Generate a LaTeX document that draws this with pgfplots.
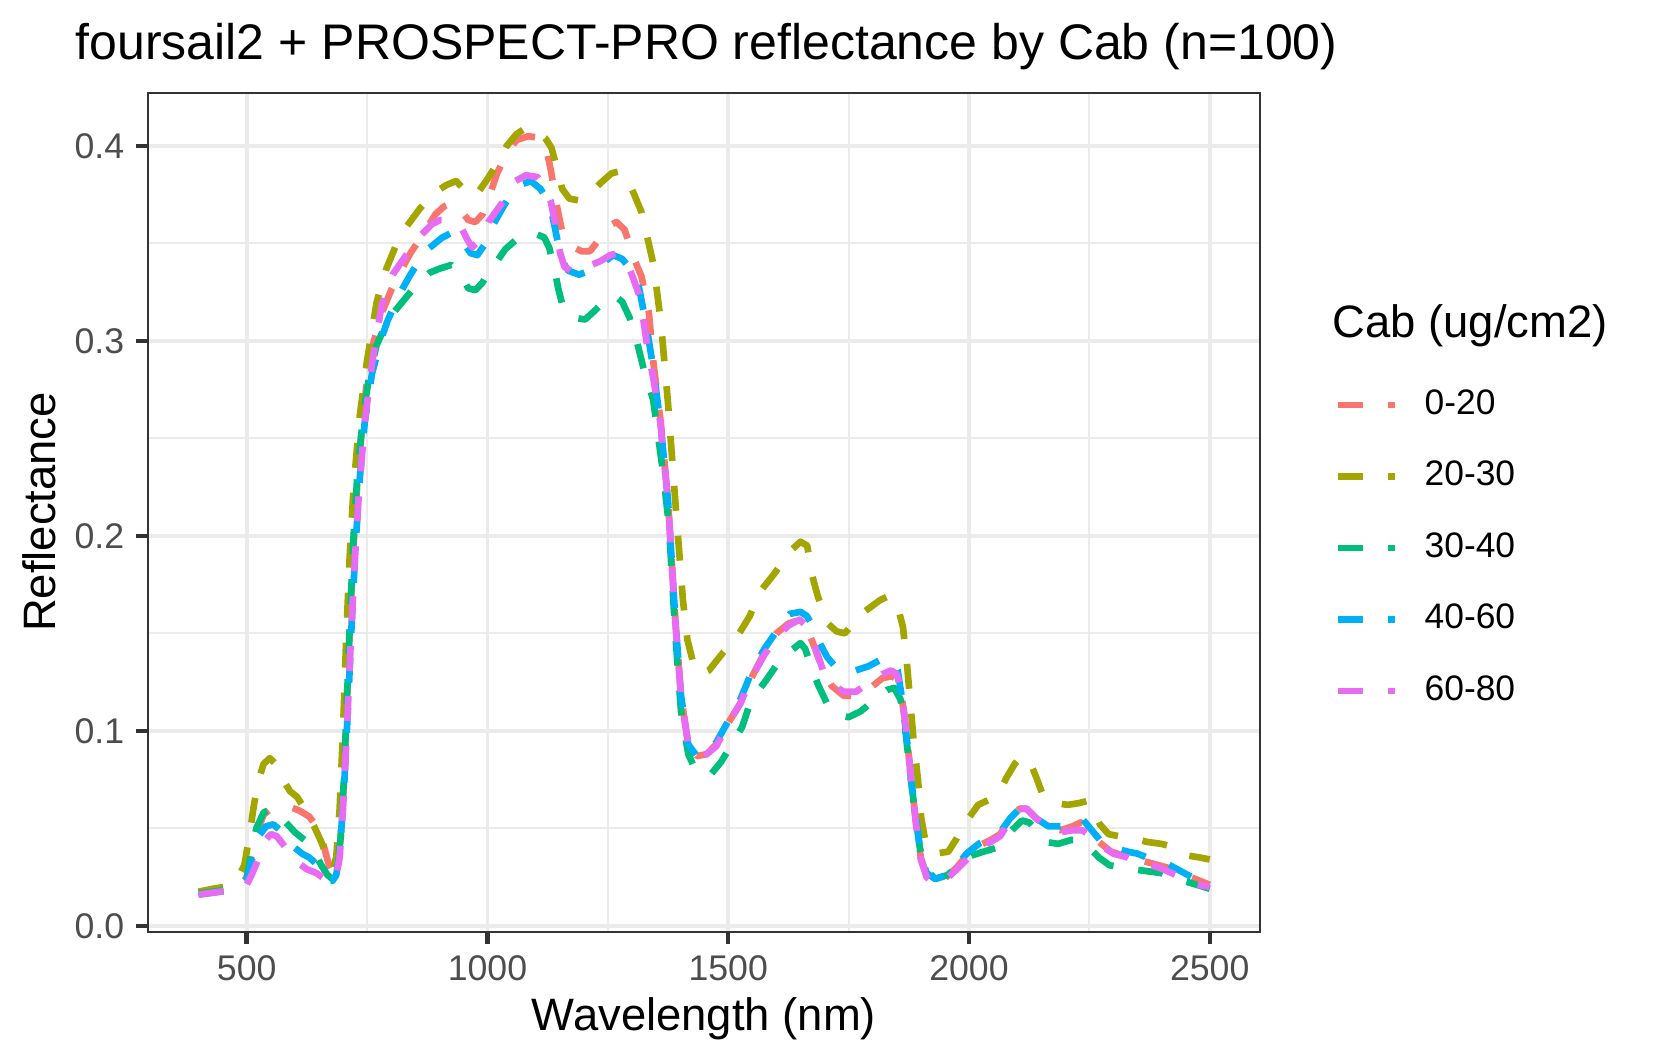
\documentclass[border=0pt]{standalone}
\usepackage{pgfplots}
\pgfplotsset{compat=1.18}
\usepackage{fontspec}
\setmainfont{Liberation Sans}
\definecolor{c1}{HTML}{F8766D}
\definecolor{c2}{HTML}{A3A500}
\definecolor{c3}{HTML}{00BF7D}
\definecolor{c4}{HTML}{00B0F6}
\definecolor{c5}{HTML}{E76BF3}
\definecolor{grid92}{HTML}{EBEBEB}
\definecolor{grey20}{HTML}{333333}
\definecolor{grey30}{HTML}{4D4D4D}
\begin{document}
\begin{tikzpicture}
\useasboundingbox (0,0) rectangle (396.72pt,-254.88pt);
\begin{axis}[
  at={(35.52pt,-223.68pt)}, anchor=south west,
  scale only axis, width=266.95pt, height=201.43pt,
  xmin=295, xmax=2605, ymin=-0.0032, ymax=0.4273,
  xtick={500,1000,1500,2000,2500}, xticklabels={500,1000,1500,2000,2500},
  ytick={0,0.1,0.2,0.3,0.4}, yticklabels={0.0,0.1,0.2,0.3,0.4},
  minor xtick={750,1250,1750,2250}, minor ytick={0.05,0.15,0.25,0.35},
  grid=both,
  major grid style={draw=grid92, line width=0.9pt},
  minor grid style={draw=grid92, line width=0.5pt},
  axis line style={draw=grey20, line width=0.5pt},
  tick align=outside, xtick pos=bottom, ytick pos=left,
  major tick length=2.9pt, minor tick length=0pt,
  tick style={draw=grey20, line width=1.07pt},
  /pgf/number format/assume math mode=true,
  ticklabel style={font=\fontsize{8.56}{10}\selectfont, text=grey30, inner sep=0pt},
  xticklabel style={anchor=north, yshift=-2.62pt},
  yticklabel style={anchor=east, xshift=-2.62pt},
  every axis plot/.append style={line width=1.6pt, dash pattern=on 6pt off 6pt, line cap=butt, line join=round},
  legend style={at={(axis description cs:1.0672,0.4576)}, anchor=west, draw=none, fill=none, inner sep=0pt, outer sep=0pt, row sep=9.73pt, column sep=6.2pt, font=\fontsize{8.5}{10}\selectfont, nodes={inner sep=0pt, outer sep=0pt}},
  legend cell align=left,
  legend image code/.code={\draw[#1] (0pt,0pt) -- (13.7pt,0pt);},
]
\addplot[c1] coordinates {(400,0.0165) (430,0.0175) (460,0.0185) (485,0.020) (500,0.025) (510,0.036) (520,0.047) (535,0.057) (550,0.060) (570,0.0605) (590,0.061) (610,0.059) (630,0.056) (645,0.051) (660,0.041) (672,0.030) (680,0.026) (688,0.030) (695,0.045) (702,0.075) (708,0.115) (715,0.16) (722,0.195) (730,0.228) (740,0.258) (750,0.28) (762,0.298) (780,0.314) (800,0.326) (820,0.336) (840,0.345) (867,0.355) (892,0.365) (910,0.369) (928,0.371) (945,0.367) (960,0.362) (975,0.361) (990,0.365) (1005,0.375) (1020,0.386) (1040,0.396) (1060,0.403) (1085,0.405) (1110,0.404) (1122,0.399) (1132,0.387) (1142,0.372) (1155,0.356) (1172,0.349) (1195,0.346) (1213,0.346) (1235,0.353) (1252,0.359) (1268,0.361) (1285,0.357) (1303,0.343) (1320,0.333) (1335,0.315) (1345,0.288) (1360,0.258) (1375,0.218) (1390,0.158) (1402,0.118) (1417,0.093) (1435,0.087) (1455,0.088) (1475,0.093) (1500,0.104) (1525,0.114) (1550,0.128) (1575,0.14) (1600,0.15) (1625,0.155) (1648,0.157) (1662,0.153) (1676,0.145) (1697,0.131) (1715,0.123) (1740,0.118) (1770,0.118) (1795,0.122) (1820,0.127) (1840,0.128) (1852,0.126) (1860,0.118) (1870,0.099) (1880,0.075) (1890,0.053) (1900,0.035) (1912,0.026) (1930,0.022) (1953,0.025) (1975,0.03) (1995,0.036) (2020,0.041) (2045,0.044) (2065,0.047) (2085,0.055) (2105,0.06) (2120,0.06) (2140,0.055) (2165,0.05) (2190,0.049) (2215,0.051) (2232,0.053) (2250,0.049) (2270,0.043) (2295,0.038) (2320,0.036) (2350,0.034) (2380,0.032) (2410,0.03) (2440,0.027) (2470,0.024) (2500,0.021)};
\addlegendentry{0-20}
\addplot[c2] coordinates {(400,0.0175) (430,0.019) (455,0.020) (480,0.024) (495,0.031) (505,0.045) (515,0.062) (525,0.075) (535,0.083) (548,0.086) (560,0.083) (575,0.075) (590,0.069) (605,0.066) (620,0.06) (640,0.051) (655,0.043) (668,0.034) (678,0.029) (686,0.035) (693,0.06) (700,0.1) (707,0.15) (714,0.19) (722,0.225) (735,0.262) (750,0.29) (770,0.32) (790,0.337) (810,0.349) (830,0.358) (860,0.368) (890,0.376) (915,0.38) (935,0.382) (950,0.378) (965,0.374) (980,0.376) (1000,0.383) (1020,0.391) (1040,0.4) (1060,0.406) (1078,0.409) (1100,0.407) (1120,0.404) (1133,0.399) (1145,0.388) (1155,0.378) (1170,0.373) (1190,0.372) (1210,0.375) (1235,0.381) (1258,0.386) (1275,0.387) (1290,0.383) (1305,0.375) (1320,0.366) (1333,0.352) (1345,0.339) (1360,0.31) (1375,0.268) (1390,0.218) (1406,0.167) (1415,0.147) (1427,0.135) (1442,0.129) (1460,0.131) (1489,0.140) (1518,0.148) (1545,0.159) (1565,0.171) (1597,0.181) (1628,0.192) (1650,0.197) (1664,0.195) (1674,0.18) (1686,0.169) (1707,0.155) (1725,0.151) (1742,0.150) (1760,0.155) (1777,0.16) (1815,0.167) (1832,0.169) (1850,0.166) (1863,0.153) (1871,0.135) (1878,0.115) (1885,0.095) (1894,0.075) (1901,0.055) (1912,0.040) (1930,0.037) (1957,0.038) (1975,0.045) (1990,0.052) (2019,0.062) (2045,0.065) (2060,0.067) (2078,0.076) (2095,0.083) (2110,0.087) (2125,0.085) (2140,0.076) (2155,0.066) (2180,0.063) (2205,0.062) (2230,0.063) (2245,0.064) (2258,0.059) (2272,0.052) (2290,0.047) (2310,0.046) (2340,0.045) (2370,0.043) (2400,0.042) (2430,0.04) (2455,0.036) (2480,0.035) (2500,0.034)};
\addlegendentry{20-30}
\addplot[c3] coordinates {(400,0.0165) (430,0.0175) (460,0.0185) (485,0.020) (500,0.024) (510,0.038) (520,0.05) (535,0.058) (550,0.06) (567,0.057) (585,0.052) (600,0.048) (620,0.044) (640,0.038) (655,0.031) (668,0.026) (678,0.024) (687,0.028) (695,0.045) (702,0.075) (708,0.115) (715,0.16) (722,0.2) (730,0.232) (742,0.262) (755,0.283) (770,0.298) (792,0.31) (810,0.316) (830,0.322) (857,0.33) (880,0.335) (900,0.337) (925,0.339) (944,0.334) (960,0.327) (975,0.326) (990,0.33) (1006,0.337) (1020,0.341) (1037,0.347) (1060,0.352) (1080,0.355) (1100,0.355) (1118,0.353) (1128,0.348) (1138,0.338) (1147,0.327) (1157,0.317) (1175,0.312) (1203,0.311) (1225,0.316) (1248,0.322) (1265,0.323) (1280,0.32) (1295,0.312) (1310,0.3) (1327,0.283) (1344,0.27) (1355,0.25) (1365,0.232) (1377,0.205) (1390,0.15) (1402,0.11) (1417,0.088) (1432,0.08) (1450,0.077) (1465,0.078) (1485,0.084) (1505,0.092) (1529,0.102) (1545,0.114) (1560,0.12) (1576,0.125) (1604,0.135) (1630,0.141) (1650,0.145) (1660,0.142) (1668,0.136) (1686,0.124) (1707,0.113) (1728,0.108) (1750,0.107) (1775,0.11) (1800,0.115) (1830,0.121) (1845,0.122) (1858,0.116) (1868,0.1) (1878,0.078) (1888,0.058) (1898,0.04) (1910,0.029) (1930,0.024) (1955,0.026) (1980,0.031) (2005,0.036) (2030,0.038) (2057,0.04) (2085,0.048) (2110,0.054) (2125,0.053) (2140,0.049) (2160,0.043) (2185,0.042) (2212,0.044) (2232,0.044) (2250,0.04) (2270,0.035) (2292,0.031) (2320,0.03) (2340,0.029) (2370,0.028) (2400,0.027) (2430,0.024) (2460,0.022) (2500,0.019)};
\addlegendentry{30-40}
\addplot[c4] coordinates {(400,0.016) (430,0.017) (460,0.018) (485,0.0195) (500,0.023) (510,0.033) (522,0.045) (540,0.051) (555,0.052) (570,0.049) (585,0.044) (600,0.04) (615,0.037) (630,0.035) (648,0.031) (665,0.026) (678,0.023) (686,0.026) (694,0.04) (702,0.07) (710,0.11) (718,0.155) (726,0.195) (735,0.23) (745,0.258) (760,0.283) (778,0.300) (792,0.31) (815,0.323) (840,0.334) (871,0.346) (906,0.353) (930,0.356) (948,0.351) (965,0.345) (979,0.344) (993,0.349) (1006,0.357) (1031,0.368) (1050,0.376) (1068,0.38) (1090,0.382) (1110,0.378) (1125,0.372) (1135,0.364) (1145,0.352) (1155,0.341) (1168,0.336) (1190,0.334) (1224,0.337) (1245,0.341) (1261,0.344) (1280,0.342) (1300,0.336) (1315,0.327) (1330,0.308) (1345,0.285) (1360,0.256) (1375,0.218) (1390,0.158) (1402,0.118) (1417,0.093) (1435,0.087) (1455,0.088) (1475,0.094) (1500,0.105) (1525,0.116) (1550,0.131) (1575,0.142) (1600,0.151) (1628,0.16) (1650,0.161) (1663,0.159) (1675,0.154) (1690,0.145) (1705,0.138) (1722,0.133) (1740,0.13) (1765,0.131) (1790,0.133) (1821,0.137) (1840,0.136) (1852,0.131) (1860,0.118) (1870,0.098) (1880,0.074) (1891,0.054) (1900,0.036) (1912,0.027) (1930,0.024) (1953,0.026) (1975,0.031) (1995,0.037) (2020,0.042) (2045,0.045) (2065,0.048) (2085,0.055) (2105,0.06) (2120,0.06) (2140,0.055) (2165,0.051) (2190,0.051) (2215,0.053) (2235,0.055) (2255,0.049) (2275,0.043) (2300,0.04) (2330,0.038) (2350,0.037) (2380,0.034) (2410,0.032) (2440,0.028) (2470,0.024) (2500,0.02)};
\addlegendentry{40-60}
\addplot[c5] coordinates {(400,0.016) (430,0.017) (460,0.018) (485,0.0195) (500,0.021) (510,0.026) (522,0.033) (535,0.043) (550,0.047) (562,0.046) (575,0.042) (590,0.037) (608,0.032) (625,0.029) (645,0.027) (662,0.024) (675,0.022) (685,0.024) (693,0.035) (700,0.06) (708,0.1) (716,0.145) (724,0.185) (733,0.222) (745,0.258) (760,0.288) (780,0.318) (803,0.334) (834,0.345) (861,0.354) (885,0.36) (902,0.362) (925,0.362) (944,0.359) (958,0.352) (968,0.348) (985,0.352) (1002,0.361) (1031,0.371) (1058,0.382) (1080,0.385) (1104,0.384) (1120,0.379) (1131,0.372) (1141,0.36) (1151,0.345) (1160,0.338) (1180,0.335) (1207,0.338) (1235,0.341) (1255,0.344) (1270,0.345) (1285,0.342) (1300,0.334) (1317,0.322) (1332,0.297) (1345,0.28) (1359,0.258) (1375,0.218) (1390,0.156) (1402,0.118) (1417,0.093) (1435,0.087) (1455,0.088) (1475,0.092) (1500,0.104) (1525,0.114) (1550,0.128) (1575,0.139) (1600,0.148) (1625,0.154) (1648,0.157) (1662,0.154) (1676,0.146) (1697,0.131) (1715,0.124) (1740,0.12) (1765,0.12) (1794,0.125) (1820,0.129) (1838,0.131) (1850,0.129) (1860,0.12) (1870,0.1) (1880,0.075) (1890,0.052) (1900,0.034) (1912,0.025) (1930,0.021) (1953,0.024) (1975,0.029) (1995,0.034) (2020,0.04) (2045,0.043) (2065,0.046) (2085,0.054) (2105,0.06) (2120,0.06) (2140,0.055) (2165,0.05) (2190,0.048) (2215,0.049) (2235,0.049) (2255,0.046) (2275,0.041) (2300,0.037) (2330,0.035) (2354,0.032) (2380,0.031) (2403,0.029) (2430,0.026) (2452,0.023) (2475,0.021) (2500,0.02)};
\addlegendentry{60-80}
\end{axis}
\node[anchor=base west, inner sep=0pt, font=\fontsize{12}{14}\selectfont] at (18pt,-14.16pt) {foursail2 + PROSPECT-PRO reflectance by Cab (n=100)};
\node[anchor=base, inner sep=0pt, font=\fontsize{10.9}{13}\selectfont] at (168.96pt,-247.2pt) {Wavelength (nm)};
\node[anchor=base, rotate=90, inner sep=0pt, font=\fontsize{10.9}{13}\selectfont] at (13.2pt,-122.88pt) {Reflectance};
\node[anchor=base west, inner sep=0pt, font=\fontsize{10.9}{13}\selectfont] at (319.6pt,-81.1pt) {Cab (ug/cm2)};
\end{tikzpicture}
\end{document}
